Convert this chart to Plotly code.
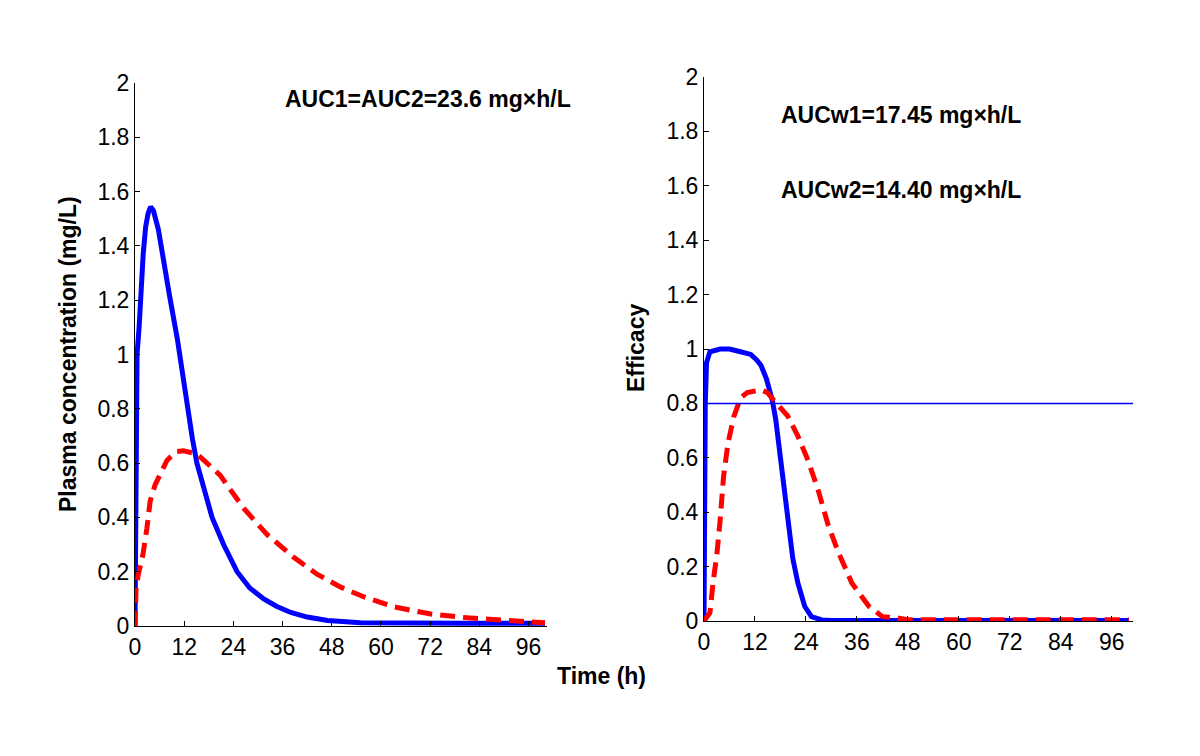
import plotly.graph_objects as go
from plotly.subplots import make_subplots

# ---- data ----
time_ticks = [0, 12, 24, 36, 48, 60, 72, 84, 96]
y_ticks = [0, 0.2, 0.4, 0.6, 0.8, 1, 1.2, 1.4, 1.6, 1.8, 2]
y_tick_labels = ["0", "0.2", "0.4", "0.6", "0.8", "1", "1.2", "1.4", "1.6", "1.8", "2"]

# Plasma concentration, formulation 1 (blue, solid)
t_conc1 = [0, 0.1, 0.25, 0.5, 1.0, 1.5, 2.0, 2.6, 3.2, 3.8, 4.5, 5.7, 7.3, 8.5,
           10.3, 11.5, 12.8, 14.0, 15.1, 17.0, 18.8, 21.6, 24.9, 28.0, 31.4, 34.5,
           38, 42, 47, 55, 65, 80, 100]
conc1 = [0, 0.45, 0.8, 1.0, 1.1, 1.25, 1.37, 1.47, 1.52, 1.544, 1.53, 1.46, 1.33, 1.21,
         1.06, 0.93, 0.80, 0.69, 0.60, 0.49, 0.40, 0.30, 0.20, 0.14, 0.10, 0.073,
         0.05, 0.033, 0.02, 0.012, 0.01, 0.01, 0.01]

# Plasma concentration, formulation 2 (red, dashed)
t_conc2 = [0, 0.05, 0.24, 0.8, 1.9, 2.9, 3.7, 4.9, 6.1, 7.8, 10.0, 11.8, 15.1, 17.6,
           20.8, 22.4, 26.5, 32.2, 38.8, 44.5, 50.2, 55.9, 63.3, 72.2, 81.2, 89.4, 100]
conc2 = [0, 0.06, 0.13, 0.19, 0.26, 0.36, 0.46, 0.52, 0.555, 0.61, 0.642, 0.645, 0.634, 0.60,
         0.555, 0.52, 0.434, 0.337, 0.252, 0.19, 0.143, 0.107, 0.07, 0.044, 0.03, 0.022, 0.012]

# Efficacy, formulation 1 (blue, solid)
t_eff1 = [0, 0.1, 0.3, 0.6, 1.4, 3.8, 6.0, 8.6, 11.0, 12.4, 13.4, 14.7, 16.1, 16.9,
          17.7, 18.5, 19.3, 20.1, 20.9, 22.1, 23.7, 25.3, 27.7, 30, 100]
eff1 = [0, 0.4, 0.8, 0.95, 0.99, 1.0, 1.0, 0.99, 0.98, 0.96, 0.94, 0.89, 0.81, 0.74,
        0.64, 0.53, 0.43, 0.33, 0.23, 0.14, 0.054, 0.016, 0.004, 0.002, 0.002]

# Efficacy, formulation 2 (red, dashed)
t_eff2 = [0, 0.2, 1.4, 2.2, 3.0, 3.8, 4.6, 5.6, 7.0, 8.6, 10.2, 13.4, 14.9, 16.5,
          19.7, 22.1, 24.5, 26.9, 29.2, 31.6, 34.8, 38.8, 42, 46, 48, 100]
eff2 = [0, 0.004, 0.03, 0.15, 0.24, 0.37, 0.53, 0.65, 0.75, 0.82, 0.84, 0.85, 0.84, 0.81,
        0.754, 0.68, 0.59, 0.48, 0.354, 0.254, 0.14, 0.054, 0.016, 0.01, 0.005, 0.005]

efficacy_threshold = 0.8

FONT = "Liberation Sans, Arial, Helvetica, sans-serif"
BLUE = "#0000FF"
RED = "#FF0000"

W, H = 1200, 756
M = 40      # fixed margins on every side
OFF = 8     # page offset of the figure inside the browser window
PW, PH = W - 2 * M, H - 2 * M


def fx(px):
    return (px - OFF - M) / PW


def fy(py):
    return 1 - (py - OFF - M) / PH


fig = make_subplots(rows=1, cols=2)

fig.add_trace(go.Scatter(x=t_conc1, y=conc1, mode="lines",
                         line=dict(color=BLUE, width=5), showlegend=False), row=1, col=1)
fig.add_trace(go.Scatter(x=t_conc2, y=conc2, mode="lines",
                         line=dict(color=RED, width=5, dash="15px,8px"), showlegend=False), row=1, col=1)
fig.add_trace(go.Scatter(x=t_eff1, y=eff1, mode="lines",
                         line=dict(color=BLUE, width=5), showlegend=False), row=1, col=2)
fig.add_trace(go.Scatter(x=t_eff2, y=eff2, mode="lines",
                         line=dict(color=RED, width=5, dash="15px,8px"), showlegend=False), row=1, col=2)

fig.add_hline(y=efficacy_threshold, line=dict(color=BLUE, width=1.5), row=1, col=2)

axis_common = dict(showline=True, linecolor="black", linewidth=1, ticks="inside",
                   ticklen=5, tickcolor="black", showgrid=False, zeroline=False,
                   automargin=False,
                   tickfont=dict(family=FONT, size=23, color="black"))

fig.update_xaxes(domain=[fx(135), fx(547)], range=[0, 100.5], tickvals=time_ticks,
                 row=1, col=1, **axis_common)
fig.update_xaxes(domain=[fx(704), fx(1133)], range=[0, 101], tickvals=time_ticks,
                 row=1, col=2, **axis_common)
fig.update_yaxes(domain=[fy(626), fy(83)], range=[0, 2], tickvals=y_ticks,
                 ticktext=y_tick_labels, row=1, col=1, **axis_common)
fig.update_yaxes(domain=[fy(621), fy(77)], range=[0, 2], tickvals=y_ticks,
                 ticktext=y_tick_labels, row=1, col=2, **axis_common)

bold = dict(family=FONT, size=23, color="black")

annotations = [
    dict(text="<b>AUC1=AUC2=23.6 mg×h/L</b>", x=36.1, y=1.94, xref="x", yref="y",
         xanchor="left", yanchor="middle", showarrow=False, font=bold),
    dict(text="<b>AUCw1=17.45 mg×h/L</b>", x=17.6, y=1.86, xref="x2", yref="y2",
         xanchor="left", yanchor="middle", showarrow=False, font=bold),
    dict(text="<b>AUCw2=14.40 mg×h/L</b>", x=17.6, y=1.585, xref="x2", yref="y2",
         xanchor="left", yanchor="middle", showarrow=False, font=bold),
    dict(text="<b>Efficacy=0.8</b>", x=101.4, y=0.886, xref="x2", yref="y2",
         xanchor="right", yanchor="middle", showarrow=False, font=bold),
    dict(text="<b>Plasma concentration (mg/L)</b>", x=fx(68), y=fy(354),
         xref="paper", yref="paper", textangle=-90, xanchor="center", yanchor="middle",
         showarrow=False, font=bold),
    dict(text="<b>Efficacy</b>", x=fx(636), y=fy(348),
         xref="paper", yref="paper", textangle=-90, xanchor="center", yanchor="middle",
         showarrow=False, font=bold),
    dict(text="<b>Time (h)</b>", x=fx(601), y=fy(676),
         xref="paper", yref="paper", xanchor="center", yanchor="middle",
         showarrow=False, font=bold),
]

fig.update_layout(width=W, height=H, margin=dict(l=M, r=M, t=M, b=M, autoexpand=False),
                  plot_bgcolor="white", paper_bgcolor="white",
                  font=dict(family=FONT, color="black"), annotations=annotations)

fig.write_html("out.html")
